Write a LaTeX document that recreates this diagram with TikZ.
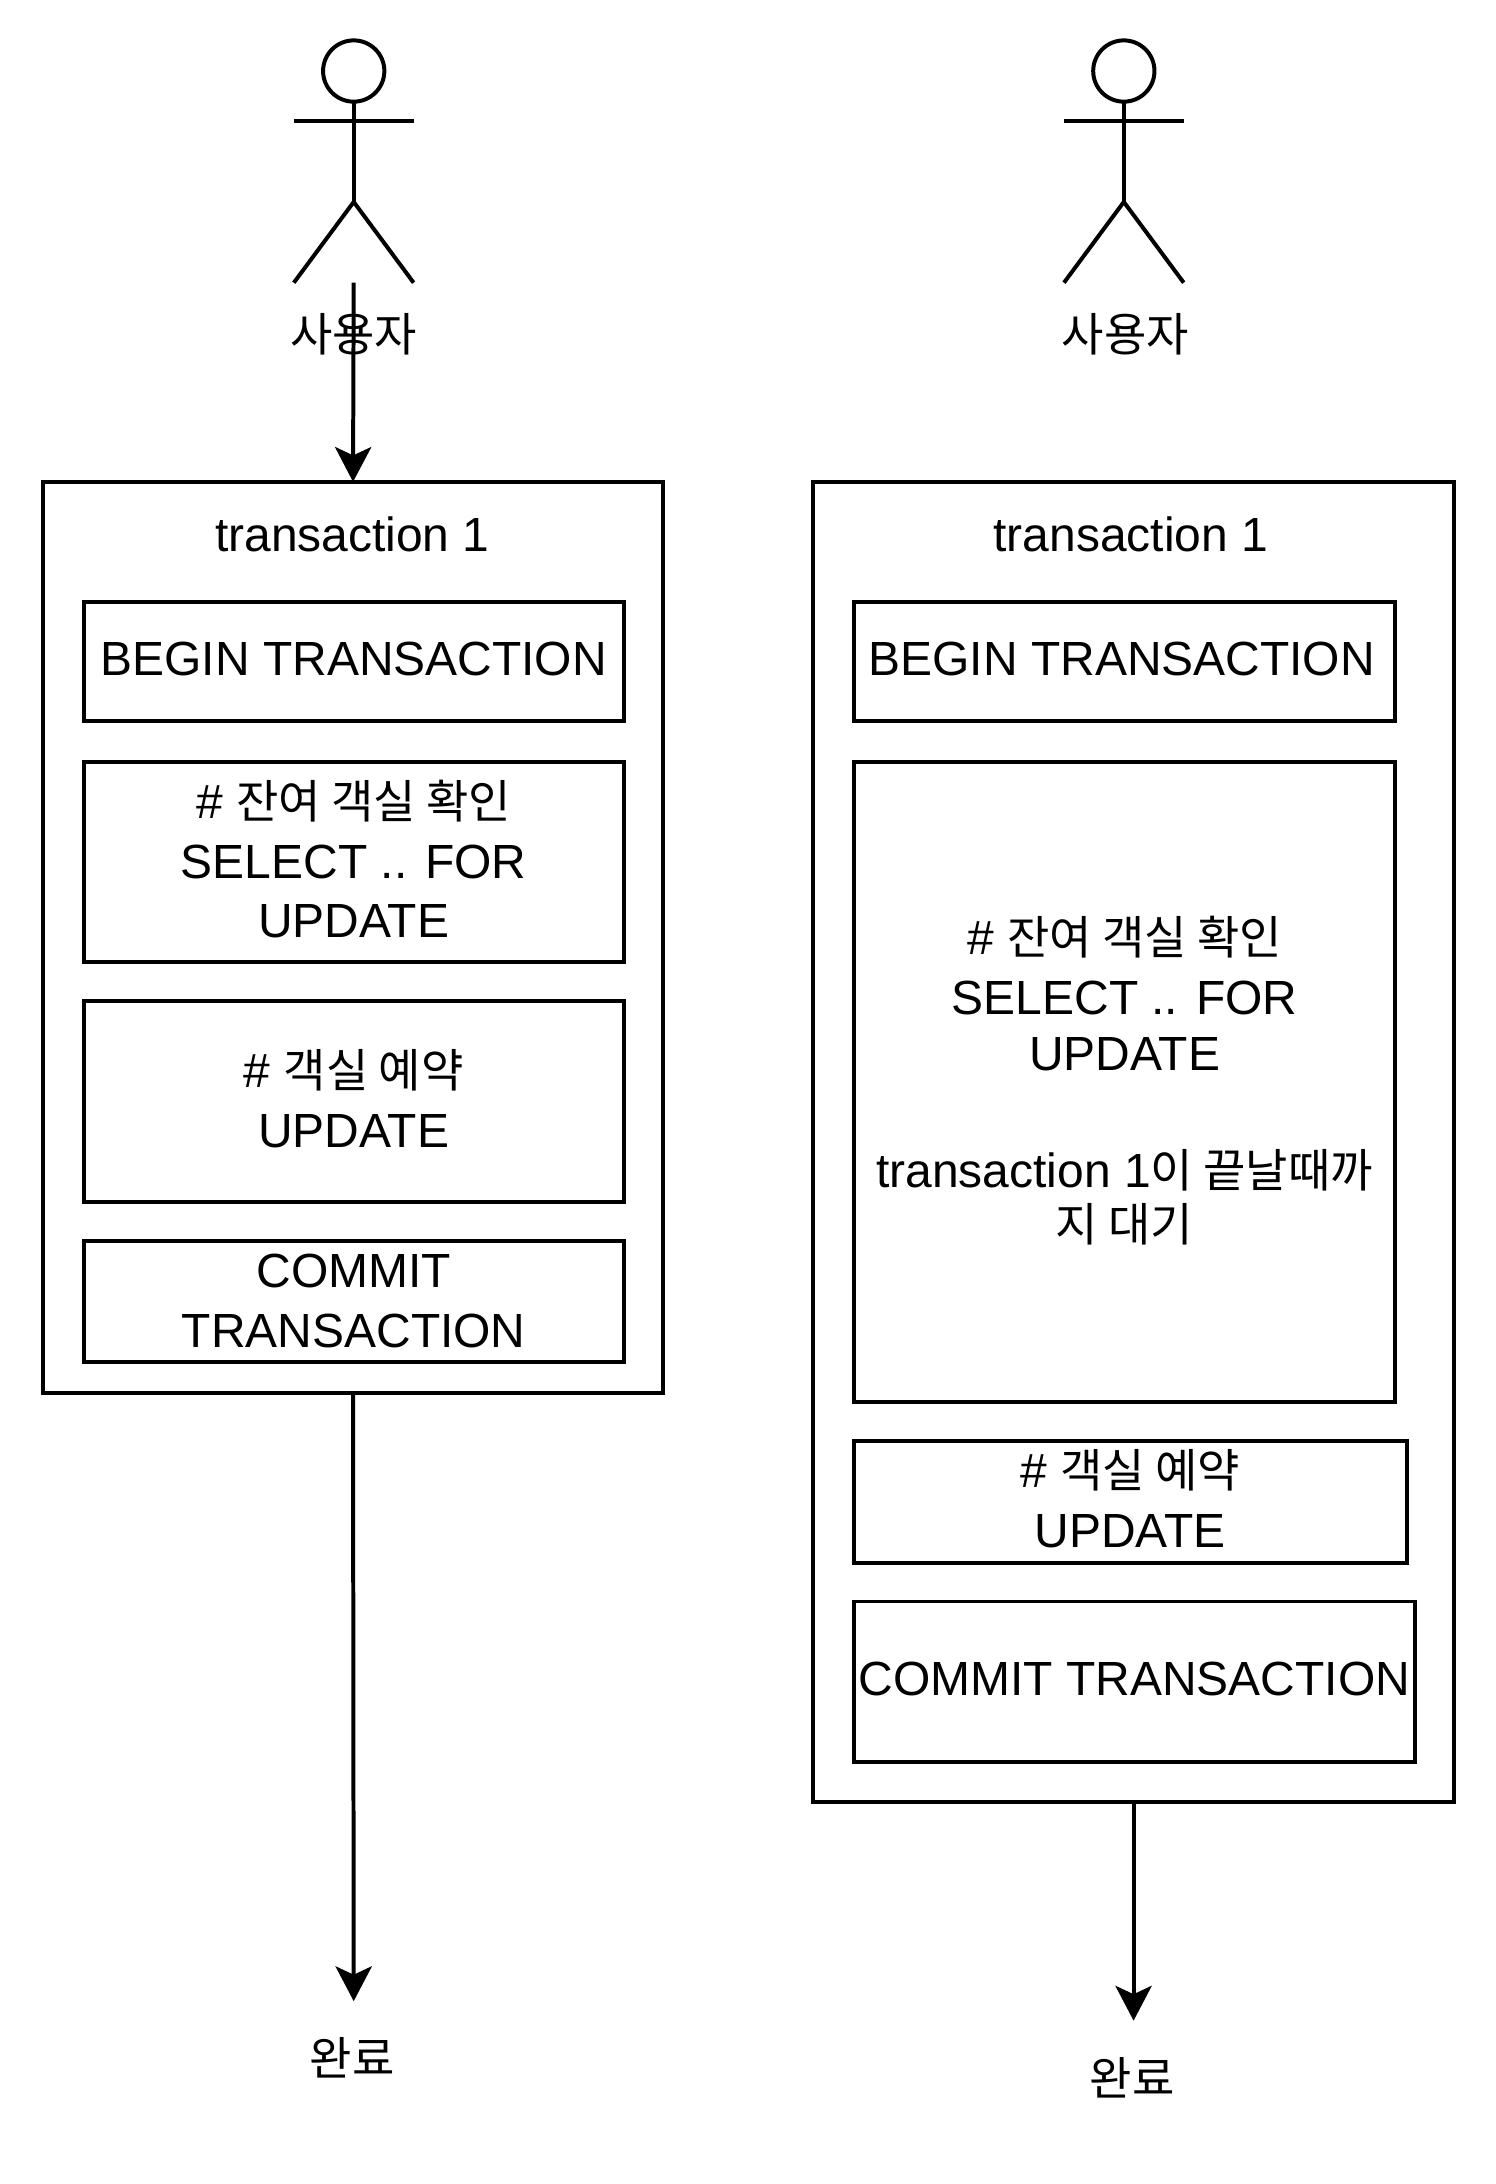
\documentclass[tikz,border=0pt]{standalone}
\usepackage{fontspec}
\setmainfont{Liberation Sans}
\newfontfamily\kofont[Scale=0.96]{Noto Sans CJK KR}
\newcommand{\ko}[1]{{\kofont #1}}
\newcommand{\lift}{\rule[-2.6pt]{0pt}{0pt}}
\usetikzlibrary{arrows.meta}

\begin{document}
\begin{tikzpicture}[x=0.02cm,y=-0.02cm,line width=1.63pt,
    >={Stealth[length=0.5cm,width=0.52cm,inset=0.12cm]},
    every node/.style={font=\fontsize{19.6}{24.5}\selectfont,align=center,inner sep=0pt,outer sep=0pt},
    txbox/.style 2 args={draw,minimum width=#1*0.02cm,minimum height=#2*0.02cm}]
    \useasboundingbox (0,0) rectangle (1074.2,1568.3);
    % actors
    \foreach \x/\id in {254/1,807/2} {
        \node[circle,draw,minimum size=44*0.02cm] (head\id) at (\x,51) {};
        \coordinate (hip\id) at (\x,145);
        \coordinate (foot\id) at (\x,203);
        \draw (head\id.south)--(hip\id);
        \draw (\x-43,87)--(\x+43,87);
        \draw (\x-43,203)--(hip\id)--(\x+43,203);
    }
    \node (user1) at (254,240) {\ko{사용자}};
    \node (user2) at (808,240) {\ko{사용자}};
    % left transaction
    \node[txbox={445}{654}] (outer1) at (253.5,673) {};
    \node (title1) at (253,384) {transaction 1};
    \node[txbox={388}{86}] (begin1) at (254,475) {BEGIN TRANSACTION\lift};
    \node[txbox={388}{144}] (select1) at (254,619) {\# \ko{잔여 객실 확인}\\SELECT .. FOR\\UPDATE\lift};
    \node[txbox={388}{144}] (update1) at (254,791) {\# \ko{객실 예약}\\UPDATE\lift};
    \node[txbox={388}{87}] (commit1) at (254,934.5) {COMMIT\\TRANSACTION};
    % right transaction
    \node[txbox={460}{948}] (outer2) at (814,820) {};
    \node (title2) at (812,384) {transaction 1};
    \node[txbox={389}{86}] (begin2) at (807.5,475) {BEGIN TRANSACTION\hspace{2.3pt}\lift};
    \node[txbox={389}{460}] (select2) at (807.5,777) {\# \ko{잔여 객실 확인}\\SELECT .. FOR\\[-1.7pt]UPDATE\\[23.4pt]transaction 1\ko{이 끝날때까}\\[-2.3pt]\ko{지 대기}\lift};
    \node[txbox={397}{87}] (update2) at (811.5,1078.5) {\# \ko{객실 예약}\\UPDATE\lift};
    \node[txbox={403}{115}] (commit2) at (814.5,1207.5) {COMMIT TRANSACTION\lift};
    % arrows
    \node (done1) at (253,1478) {\ko{완료}};
    \node (done2) at (813,1492) {\ko{완료}};
    \coordinate (end1) at (254,1437);
    \coordinate (end2) at (814,1451);
    \draw[->] (foot1)--(outer1.north);
    \draw[->] (outer1.south)--(end1);
    \draw[->] (outer2.south)--(end2);
\end{tikzpicture}
\end{document}
